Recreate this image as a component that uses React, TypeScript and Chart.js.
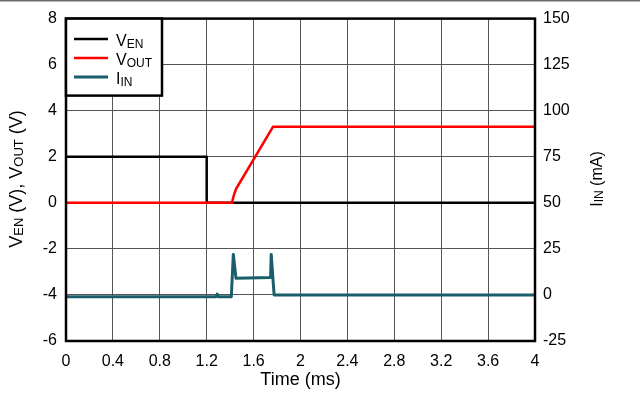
import React, { useEffect, useRef } from "react";
import { Chart, registerables } from "chart.js";

Chart.register(...registerables);

const FONT = '"Liberation Sans", Arial, Helvetica, sans-serif';

// Time axis (ms)
const xTicks = [0, 0.4, 0.8, 1.2, 1.6, 2, 2.4, 2.8, 3.2, 3.6, 4];

// V_EN (V)
const venTime = [0, 1.2, 1.2, 4];
const venValue = [2, 2, 0, 0];

// V_OUT (V)
const voutTime = [0, 1.415, 1.43, 1.45, 1.765, 4];
const voutValue = [0, 0, 0.3, 0.6, 3.3, 3.3];

// I_IN (mA)
const iinTime = [0, 1.28, 1.29, 1.3, 1.41, 1.427, 1.45, 1.745, 1.75, 1.775, 4];
const iinValue = [-1, -1, 0.5, -1, -1, 22, 9, 9.5, 22, 0, 0];

const colors = { ven: "#000000", vout: "#ff0000", iin: "#1a5d6b" };

type Seg = { t: string; sub?: boolean };

function drawRich(
  ctx: CanvasRenderingContext2D,
  segs: Seg[],
  x: number,
  y: number,
  main: number,
  sub: number,
  subDy: number,
  align: "left" | "center"
) {
  const widths: number[] = [];
  let total = 0;
  for (const s of segs) {
    ctx.font = `${s.sub ? sub : main}px ${FONT}`;
    const w = ctx.measureText(s.t).width;
    widths.push(w);
    total += w;
  }
  let cx = align === "center" ? x - total / 2 : x;
  ctx.textAlign = "left";
  ctx.textBaseline = "alphabetic";
  segs.forEach((s, i) => {
    ctx.font = `${s.sub ? sub : main}px ${FONT}`;
    ctx.fillText(s.t, cx, y + (s.sub ? subDy : 0));
    cx += widths[i];
  });
}

const overlayPlugin = {
  id: "overlay",
  afterDraw(chart: any) {
    const ctx: CanvasRenderingContext2D = chart.ctx;
    const a = chart.chartArea;
    ctx.save();
    // top page line
    ctx.fillStyle = "#6e6e6e";
    ctx.fillRect(0, 0, chart.width, 1.5);
    // plot box
    ctx.strokeStyle = "#000";
    ctx.lineWidth = 2.5;
    ctx.strokeRect(a.left, a.top, a.right - a.left, a.bottom - a.top);

    // legend
    const lx = a.left;
    const ly = a.top;
    const lw = 96;
    const lh = 77;
    ctx.fillStyle = "#fff";
    ctx.fillRect(lx, ly, lw, lh);
    ctx.lineWidth = 2.5;
    ctx.strokeStyle = "#000";
    ctx.strokeRect(lx, ly, lw, lh);
    const rows: { c: string; w: number; segs: Seg[] }[] = [
      { c: colors.ven, w: 2.5, segs: [{ t: "V" }, { t: "EN", sub: true }] },
      { c: colors.vout, w: 2.5, segs: [{ t: "V" }, { t: "OUT", sub: true }] },
      { c: colors.iin, w: 3, segs: [{ t: "I" }, { t: "IN", sub: true }] },
    ];
    rows.forEach((r, i) => {
      const yy = ly + 20.5 + i * 19;
      ctx.strokeStyle = r.c;
      ctx.lineWidth = r.w;
      ctx.beginPath();
      ctx.moveTo(lx + 8, yy);
      ctx.lineTo(lx + 42, yy);
      ctx.stroke();
      ctx.fillStyle = "#000";
      drawRich(ctx, r.segs, lx + 50, yy + 6.5, 16, 12, 2, "left");
    });

    // axis titles
    ctx.fillStyle = "#000";
    ctx.save();
    ctx.translate(22, 179);
    ctx.rotate(-Math.PI / 2);
    drawRich(
      ctx,
      [
        { t: "V" },
        { t: "EN", sub: true },
        { t: " (V), V" },
        { t: "OUT", sub: true },
        { t: " (V)" },
      ],
      0,
      0,
      18,
      13,
      1,
      "center"
    );
    ctx.restore();

    ctx.save();
    ctx.translate(602, 179);
    ctx.rotate(-Math.PI / 2);
    drawRich(
      ctx,
      [{ t: "I" }, { t: "IN", sub: true }, { t: " (mA)" }],
      0,
      0,
      16,
      12,
      1,
      "center"
    );
    ctx.restore();

    ctx.fillStyle = "#000";
    drawRich(ctx, [{ t: "Time (ms)" }], (a.left + a.right) / 2, 385, 18, 13, 0, "center");
    ctx.restore();
  },
};

export default function App() {
  const ref = useRef<HTMLCanvasElement | null>(null);

  useEffect(() => {
    document.body.style.margin = "0";
    if (!ref.current) return;
    const pts = (t: number[], v: number[]) => t.map((x, i) => ({ x, y: v[i] }));
    const chart = new Chart(ref.current, {
      type: "line",
      data: {
        datasets: [
          {
            label: "VOUT",
            data: pts(voutTime, voutValue),
            borderColor: colors.vout,
            borderWidth: 2.5,
            pointRadius: 0,
            yAxisID: "y",
            order: 0,
          },
          {
            label: "VEN",
            data: pts(venTime, venValue),
            borderColor: colors.ven,
            borderWidth: 2.5,
            pointRadius: 0,
            yAxisID: "y",
            order: 1,
          },
          {
            label: "IIN",
            data: pts(iinTime, iinValue),
            borderColor: colors.iin,
            borderWidth: 3,
            pointRadius: 0,
            yAxisID: "y2",
            order: 2,
          },
        ],
      },
      options: {
        responsive: false,
        animation: false,
        devicePixelRatio: 1,
        layout: { padding: { top: 17, left: 0, right: 0, bottom: 0 } },
        plugins: {
          legend: { display: false },
          tooltip: { enabled: false },
        },
        elements: { line: { tension: 0, borderJoinStyle: "round" } },
        scales: {
          x: {
            type: "linear",
            min: 0,
            max: 4,
            afterBuildTicks: (s: any) => {
              s.ticks = xTicks.map((v) => ({ value: v }));
            },
            afterFit: (s: any) => {
              s.height = 52;
            },
            grid: { color: "#555", lineWidth: 1, drawTicks: false },
            border: { display: false },
            ticks: {
              padding: 11,
              color: "#000",
              font: { family: FONT, size: 16 },
              callback: (v: any) => String(Number(Number(v).toFixed(1))),
              maxRotation: 0,
            },
          },
          y: {
            type: "linear",
            position: "left",
            min: -6,
            max: 8,
            afterFit: (s: any) => {
              s.width = 66;
            },
            grid: { color: "#555", lineWidth: 1, drawTicks: false },
            border: { display: false },
            ticks: {
              stepSize: 2,
              padding: 9,
              color: "#000",
              font: { family: FONT, size: 16 },
            },
          },
          y2: {
            type: "linear",
            position: "right",
            min: -25,
            max: 150,
            afterFit: (s: any) => {
              s.width = 105;
            },
            grid: { drawOnChartArea: false, drawTicks: false },
            border: { display: false },
            ticks: {
              stepSize: 25,
              padding: 8,
              color: "#000",
              font: { family: FONT, size: 16 },
            },
          },
        },
      },
      plugins: [overlayPlugin],
    });
    return () => chart.destroy();
  }, []);

  return (
    <div style={{ width: 640, height: 393, position: "relative", background: "#fff" }}>
      <canvas ref={ref} width={640} height={393} style={{ display: "block" }} />
    </div>
  );
}
